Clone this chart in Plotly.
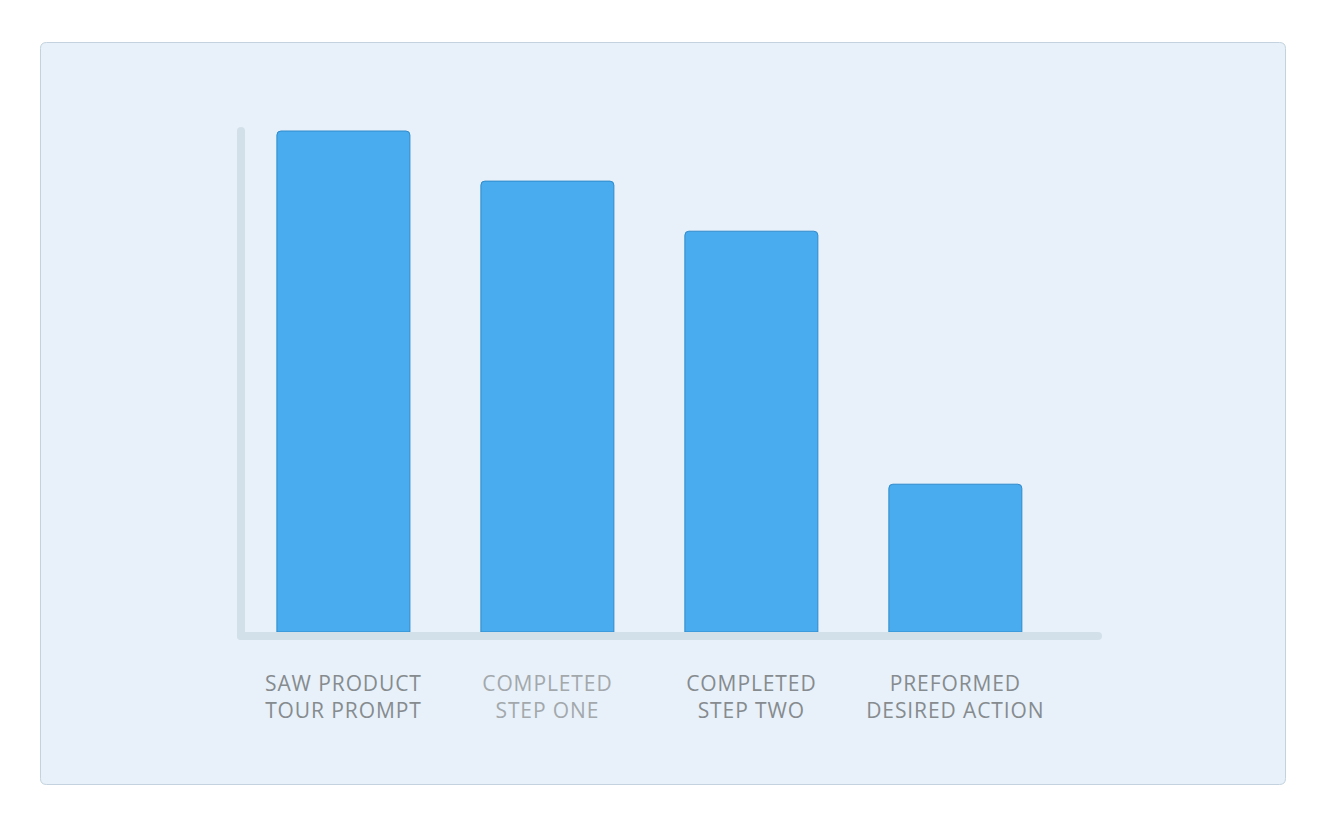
import plotly.graph_objects as go

steps = ["SAW PRODUCT<br>TOUR PROMPT", "COMPLETED<br>STEP ONE",
         "COMPLETED<br>STEP TWO", "PREFORMED<br>DESIRED ACTION"]
users = [100, 90, 80, 29.5]
label_colors = ["#868b8f", "#a3a8ac", "#868b8f", "#868b8f"]

W, H = 1328, 830
OFF = 8  # page body margin
L, R, T, B = 241 - OFF, 227 + OFF, 127 - OFF, 198 + OFF   # plot area margins in px
pw, ph = W - L - R, H - T - B


def px(x, y):
    # screen pixel -> paper coordinates
    return (x - OFF - L) / pw, (H - B - (y - OFF)) / ph


def rounded_rect(x0, y0, x1, y1, r):
    pts = [
        ("M", x0 + r, y0), ("L", x1 - r, y0), ("Q", x1, y0, x1, y0 + r),
        ("L", x1, y1 - r), ("Q", x1, y1, x1 - r, y1), ("L", x0 + r, y1),
        ("Q", x0, y1, x0, y1 - r), ("L", x0, y0 + r), ("Q", x0, y0, x0 + r, y0),
    ]
    out = []
    for p in pts:
        cmd, coords = p[0], p[1:]
        s = []
        for i in range(0, len(coords), 2):
            a, b = px(coords[i], coords[i + 1])
            s.append(f"{a:.5f},{b:.5f}")
        out.append(cmd + " ".join(s))
    return " ".join(out) + " Z"


def styled(t, c):
    return "<br>".join(
        f"<span style='color:{c};letter-spacing:0.9px'>{line}</span>"
        for line in t.split("<br>"))


ticktext = [styled(t, c) for t, c in zip(steps, label_colors)]

fig = go.Figure(go.Bar(
    x=list(range(len(steps))), y=users,
    marker=dict(color="#48acee", line=dict(color="#2f8acb", width=1)),
    hoverinfo="skip",
))

shapes = [
    # panel
    dict(type="path", xref="paper", yref="paper", layer="below",
         path=rounded_rect(40.5, 42.5, 1285.5, 784.5, 6),
         fillcolor="#e8f1f9", line=dict(color="#c3d2de", width=1)),
    # y axis bar
    dict(type="path", xref="paper", yref="paper", layer="below",
         path=rounded_rect(237, 127, 245, 640, 4),
         fillcolor="#d2e0ea", line=dict(width=0)),
    # x axis bar
    dict(type="path", xref="paper", yref="paper", layer="below",
         path=rounded_rect(237, 632, 1102, 640, 4),
         fillcolor="#d2e0ea", line=dict(width=0)),
]

fig.update_layout(
    width=W, height=H,
    margin=dict(l=L, r=R, t=T, b=B),
    paper_bgcolor="white", plot_bgcolor="rgba(0,0,0,0)",
    bargap=0.348, barcornerradius=4,
    showlegend=False,
    shapes=shapes,
    font=dict(family="Open Sans", size=21, color="#868b8f"),
    xaxis=dict(range=[-0.502, 3.714], tickvals=list(range(len(steps))),
               ticktext=ticktext, showgrid=False, zeroline=False,
               showline=False, ticks="", ticklabelstandoff=37, fixedrange=True),
    yaxis=dict(range=[0, 100.8], showgrid=False, zeroline=False,
               showticklabels=False, showline=False, fixedrange=True),
)

fig.write_html("out.html", config={"displayModeBar": False})
